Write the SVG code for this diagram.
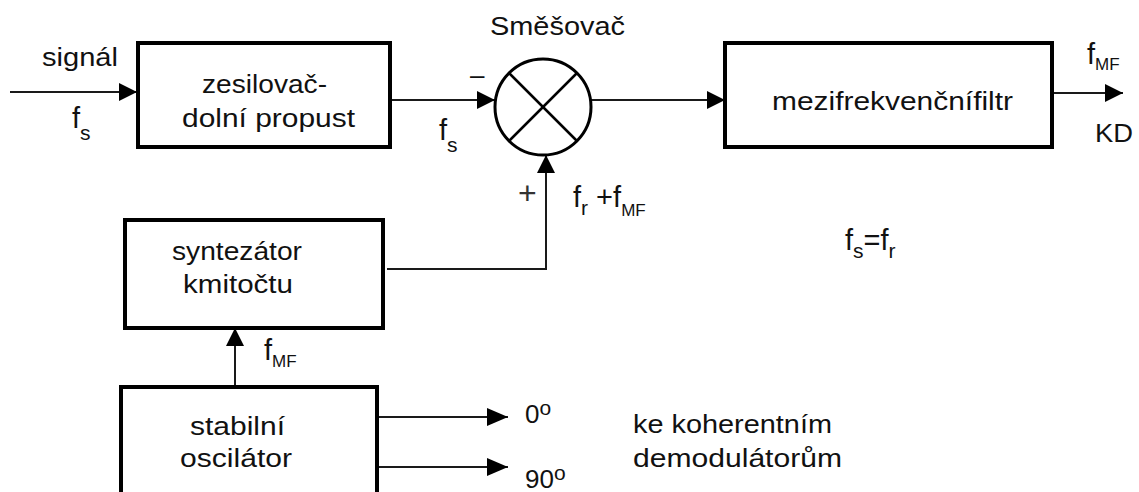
<svg xmlns="http://www.w3.org/2000/svg" width="1139" height="492" viewBox="0 0 1139 492">
<style>
.box{fill:#fff;stroke:#000;stroke-width:4}
.ln{fill:none;stroke:#1a1a1a;stroke-width:2}
.t{font-family:"Liberation Sans",Arial,sans-serif;font-size:26px;fill:#111}
.f{font-size:29px}
.sub{font-size:21px}
.sub2{font-size:17px}
</style>
<defs>
<marker id="ah" viewBox="0 0 18 18" refX="18" refY="9" markerWidth="18" markerHeight="18" orient="auto" markerUnits="userSpaceOnUse"><path d="M0,0 L18,9 L0,18 z" fill="#000"/></marker>
<marker id="ah2" viewBox="0 0 21 18" refX="21" refY="9" markerWidth="21" markerHeight="18" orient="auto" markerUnits="userSpaceOnUse"><path d="M0,0 L21,9 L0,18 z" fill="#000"/></marker>
</defs>
<rect width="1139" height="492" fill="#fff"/>
<g id="connectors">
<line class="ln" x1="10" y1="92" x2="137" y2="92" marker-end="url(#ah)"/>
<line class="ln" x1="390" y1="100" x2="495" y2="100" marker-end="url(#ah)"/>
<line class="ln" x1="591" y1="100" x2="725" y2="100" marker-end="url(#ah)"/>
<line class="ln" x1="1052" y1="93" x2="1123" y2="93" marker-end="url(#ah)"/>
<polyline class="ln" points="387,269 546,269 546,155" marker-end="url(#ah)"/>
<line class="ln" x1="235" y1="387" x2="235" y2="328" marker-end="url(#ah)"/>
<line class="ln" x1="378" y1="417" x2="508" y2="417" marker-end="url(#ah2)"/>
<line class="ln" x1="378" y1="467" x2="508" y2="467" marker-end="url(#ah2)"/>
</g>
<g id="zesilovac">
<rect class="box" x="138" y="43" width="252" height="104"/>
<text class="t" x="202" y="93" textLength="125" lengthAdjust="spacingAndGlyphs">zesilovač-</text>
<text class="t" x="182" y="127" textLength="173" lengthAdjust="spacingAndGlyphs">dolní propust</text>
</g>
<g id="smesovac">
<circle cx="543" cy="107" r="48" fill="#fff" stroke="#000" stroke-width="3"/>
<line x1="509" y1="73" x2="577" y2="141" stroke="#000" stroke-width="2.5"/>
<line x1="577" y1="73" x2="509" y2="141" stroke="#000" stroke-width="2.5"/>
<text class="t" x="490" y="35" textLength="135" lengthAdjust="spacingAndGlyphs">Směšovač</text>
</g>
<g id="filtr">
<rect class="box" x="725" y="43" width="327" height="104"/>
<text class="t" x="772" y="110" textLength="241" lengthAdjust="spacingAndGlyphs">mezifrekvenčnífiltr</text>
</g>
<g id="syntezator">
<rect class="box" x="125" y="220" width="258" height="108"/>
<text class="t" x="172" y="260" textLength="130" lengthAdjust="spacingAndGlyphs">syntezátor</text>
<text class="t" x="183" y="293" textLength="110" lengthAdjust="spacingAndGlyphs">kmitočtu</text>
</g>
<g id="oscilator">
<rect class="box" x="121" y="387" width="256" height="120"/>
<text class="t" x="190" y="435" textLength="95" lengthAdjust="spacingAndGlyphs">stabilní</text>
<text class="t" x="180" y="467" textLength="112" lengthAdjust="spacingAndGlyphs">oscilátor</text>
</g>
<g id="labels">
<text class="t" x="42" y="66" textLength="76" lengthAdjust="spacingAndGlyphs">signál</text>
<text class="t f" x="72" y="128">f<tspan class="sub" dy="12">s</tspan></text>
<text class="t" x="470" y="84">–</text>
<text class="t f" x="439" y="140">f<tspan class="sub" dy="12">s</tspan></text>
<text class="t" x="518" y="204" style="font-size:32px;fill:#333">+</text>
<text class="t f" x="573" y="207">f<tspan class="sub" dy="8">r</tspan><tspan dy="-8"> +f</tspan><tspan class="sub2" dy="9">MF</tspan></text>
<text class="t f" x="1087" y="64">f<tspan class="sub2" dy="6">MF</tspan></text>
<text class="t" x="1095" y="142" textLength="38" lengthAdjust="spacingAndGlyphs">KD</text>
<text class="t f" x="264" y="360">f<tspan class="sub2" dy="7">MF</tspan></text>
<text class="t f" x="845" y="250">f<tspan class="sub" dy="8">s</tspan><tspan dy="-8">=f</tspan><tspan class="sub" dy="8">r</tspan></text>
<text class="t" x="525" y="423">0<tspan class="sub" dy="-8">o</tspan></text>
<text class="t" x="525" y="488">90<tspan class="sub" dy="-8">o</tspan></text>
<text class="t" x="633" y="433" textLength="199" lengthAdjust="spacingAndGlyphs">ke koherentním</text>
<text class="t" x="633" y="467" textLength="209" lengthAdjust="spacingAndGlyphs">demodulátorům</text>
</g>
</svg>
